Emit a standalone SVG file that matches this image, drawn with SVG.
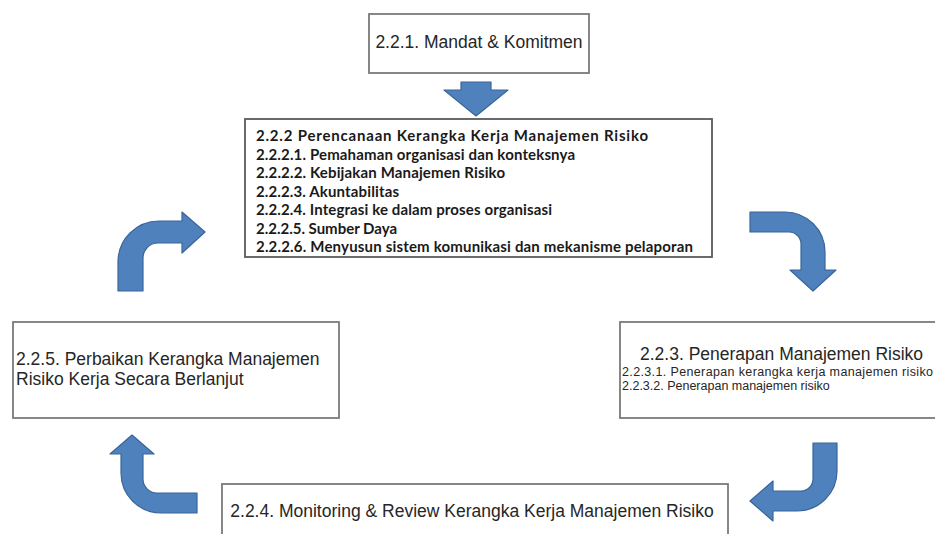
<svg xmlns="http://www.w3.org/2000/svg" width="935" height="534" viewBox="0 0 935 534">
  <style>
    .box { fill: #ffffff; stroke: #7a7a7a; stroke-width: 1.8; }
    .box-dark { fill: #ffffff; stroke: #5a5a5a; stroke-width: 1.8; }
    .t { font-family: "Liberation Sans", Arial, sans-serif; fill: #262626; font-size: 17.5px; }
    .ts { font-family: "Liberation Sans", Arial, sans-serif; fill: #262626; font-size: 12.5px; }
    .tb { font-family: Lato, "Open Sans", sans-serif; font-weight: bold; fill: #1a1a1a; font-size: 15px; }
    .arrow { fill: #4f81bd; stroke: #3a659a; stroke-width: 1.2; stroke-linejoin: round; }
  </style>
  <rect width="935" height="534" fill="#ffffff"/>

  <!-- connectors: block arrows forming the cycle -->
  <g id="connectors">
    <path class="arrow" d="M461,82 H491 V90 H508 L476,116 L444,90 H461 Z"/>
    <path class="arrow" d="M750,212 H785 A40,40 0 0 1 825,252 V270 H836 L813,291 L790,270 H801 V244 A12,12 0 0 0 789,232 H750 Z"/>
    <path class="arrow" d="M813,443 H837 V471 A40,40 0 0 1 797,511 H773 V521 L750,501 L773,481 V491 H801 A12,12 0 0 0 813,479 Z"/>
    <path class="arrow" d="M197,493 V513 H161 A40,40 0 0 1 121,473 V454 H110 L132,435 L154,454 H143 V479 A14,14 0 0 0 157,493 Z"/>
    <path class="arrow" d="M118,291 V262 A41,41 0 0 1 159,221 H182 V212 L205,232 L182,253 V243 H158 A15,15 0 0 0 143,258 V291 Z"/>
  </g>

  <g id="mandat">
    <rect class="box" x="369" y="14" width="220" height="59"/>
    <text class="t" x="479" y="48" text-anchor="middle">2.2.1. Mandat &amp; Komitmen</text>
  </g>

  <g id="perencanaan">
    <rect class="box-dark" x="245" y="119" width="467" height="138"/>
    <text class="tb" x="256" y="141" textLength="392" lengthAdjust="spacing">2.2.2 Perencanaan Kerangka Kerja Manajemen Risiko</text>
    <text class="tb" x="256" y="160" textLength="319" lengthAdjust="spacing">2.2.2.1. Pemahaman organisasi dan konteksnya</text>
    <text class="tb" x="256" y="178" textLength="249" lengthAdjust="spacing">2.2.2.2. Kebijakan Manajemen Risiko</text>
    <text class="tb" x="256" y="197" textLength="143" lengthAdjust="spacing">2.2.2.3. Akuntabilitas</text>
    <text class="tb" x="256" y="215" textLength="296" lengthAdjust="spacing">2.2.2.4. Integrasi ke dalam proses organisasi</text>
    <text class="tb" x="256" y="234" textLength="141" lengthAdjust="spacing">2.2.2.5. Sumber Daya</text>
    <text class="tb" x="256" y="252" textLength="437" lengthAdjust="spacing">2.2.2.6. Menyusun sistem komunikasi dan mekanisme pelaporan</text>
  </g>

  <g id="penerapan">
    <rect class="box" x="620" y="322" width="330" height="96"/>
    <text class="t" x="640" y="360">2.2.3. Penerapan Manajemen Risiko</text>
    <text class="ts" x="622" y="376" textLength="311" lengthAdjust="spacing">2.2.3.1. Penerapan kerangka kerja manajemen risiko</text>
    <text class="ts" x="622" y="390">2.2.3.2. Penerapan manajemen risiko</text>
  </g>

  <g id="monitoring">
    <rect class="box" x="222" y="484" width="506" height="60"/>
    <text class="t" x="472" y="517" text-anchor="middle">2.2.4. Monitoring &amp; Review Kerangka Kerja Manajemen Risiko</text>
  </g>

  <g id="perbaikan">
    <rect class="box" x="13" y="322" width="326" height="96"/>
    <text class="t" x="16" y="365">2.2.5. Perbaikan Kerangka Manajemen</text>
    <text class="t" x="16" y="385">Risiko Kerja Secara Berlanjut</text>
  </g>
</svg>
